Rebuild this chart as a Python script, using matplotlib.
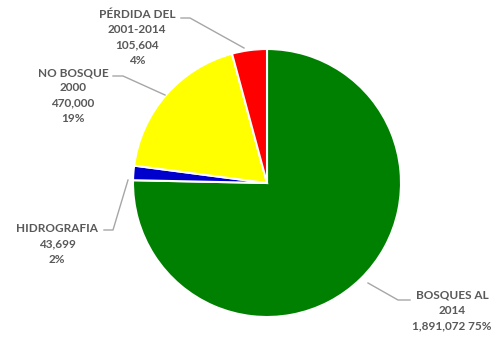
import matplotlib
matplotlib.use("Agg")
import matplotlib.pyplot as plt

categories = ["BOSQUES AL\n2014", "HIDROGRAFIA", "NO BOSQUE\n2000", "PÉRDIDA DEL\n2001-2014"]
values = [1891072, 43699, 470000, 105604]
value_labels = ["1,891,072", "43,699", "470,000", "105,604"]
percent_labels = ["75%", "2%", "19%", "4%"]
colors = ["#008000", "#0000CC", "#FFFF00", "#FF0000"]

W, H = 500, 347
fig = plt.figure(figsize=(5.0, 3.47), dpi=100)
ax = fig.add_axes([0, 0, 1, 1])

def Y(yp):
    return H - yp

cx, cy, r = 267, 183, 134
ax.pie(values, center=(cx, Y(cy)), radius=r, startangle=90, counterclock=False,
       colors=colors, wedgeprops=dict(edgecolor="white", linewidth=1.5))
ax.set_xlim(0, W)
ax.set_ylim(0, H)
ax.set_aspect("equal")
ax.axis("off")

txt_color = "#595959"
line_color = "#A6A6A6"
font = dict(family="Lato", weight="bold", size=8.5, color=txt_color,
            ha="center", va="top", linespacing=1.48)

texts = [
    categories[0] + "\n" + value_labels[0] + " " + percent_labels[0],
    categories[1] + "\n" + value_labels[1] + "\n" + percent_labels[1],
    categories[2] + "\n" + value_labels[2] + "\n" + percent_labels[2],
    categories[3] + "\n" + value_labels[3] + "\n" + percent_labels[3],
]
text_pos = [(452, 290), (57, 223), (73, 67), (137, 9)]
leaders = [
    [(368, 283), (398, 300), (410, 300)],
    [(128, 180), (113, 230), (104, 230)],
    [(165, 95), (123, 76), (113, 76)],
    [(244, 48), (190, 18), (181, 18)],
]

for t, (x, y) in zip(texts, text_pos):
    ax.text(x, Y(y), t, **font)
for pts in leaders:
    ax.plot([p[0] for p in pts], [Y(p[1]) for p in pts], color=line_color, lw=1)

fig.savefig("out.png", dpi=100, facecolor="white")
